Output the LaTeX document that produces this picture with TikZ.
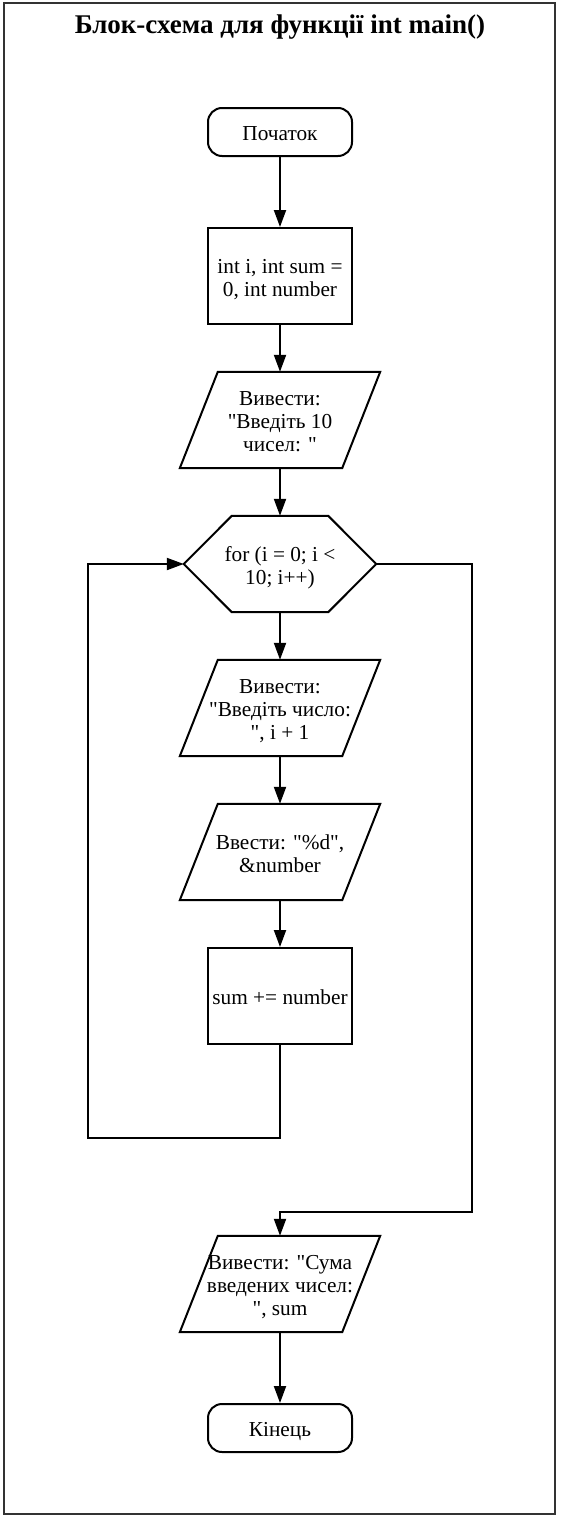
\documentclass[tikz,border=0pt]{standalone}
\usepackage{fontspec}
\setmainfont{Liberation Serif}
\usetikzlibrary{arrows.meta}
% straight double quote, set as a glyph so the TeX quote mapping leaves it alone
\newcommand{\dq}{\XeTeXglyph\XeTeXcharglyph"22\relax}
% centred block of lines, with a little extra room on top so the text sits slightly low
\newcommand{\blocktext}[1]{\begin{tabular}{@{}c@{}}\noalign{\vskip 8pt}#1\end{tabular}}

\begin{document}
\begin{tikzpicture}[x=1pt,y=-1pt,
  every node/.style={font=\fontsize{21.3}{23}\selectfont, inner sep=0pt},
  terminal/.style={draw, line width=2pt, rounded corners=14pt, minimum width=144pt, minimum height=48pt},
  process/.style={draw, line width=2pt, minimum width=144pt, minimum height=96pt},
  iobox/.style={minimum width=200pt, minimum height=96pt},
  loopbox/.style={minimum width=192pt, minimum height=96pt},
  outline/.style={line width=2pt, line join=miter},
  flow/.style={line width=2pt, -{Triangle[length=17pt,width=12pt]}}
]
\useasboundingbox (0,0) rectangle (560,1518);
\draw[line width=1.2pt, black!80] (4,3) rectangle (555,1514);

\node (title) at (280,27) {\fontsize{27}{30}\selectfont\bfseries Блок-схема для функції int main()};

\node[terminal] (start) at (280,132) {\blocktext{Початок}};
\node[process] (init) at (280,276) {\blocktext{int i, int sum =\\0, int number}};
\node[iobox] (out1) at (280,420) {\blocktext{Вивести:\\\dq Введіть 10\\чисел: \dq}};
\node[loopbox] (loop) at (280,564) {\blocktext{for (i = 0; i <\\10; i++)}};
\node[iobox] (out2) at (280,708) {\blocktext{Вивести:\\\dq Введіть число:\\\dq, i + 1}};
\node[iobox] (in1) at (280,852) {\blocktext{Ввести: \dq\%d\dq,\\\&number}};
\node[process] (acc) at (280,996) {\blocktext{sum += number}};
\node[iobox] (out3) at (280,1284) {\blocktext{Вивести: \dq Сума\\введених чисел:\\\dq, sum}};
\node[terminal] (stop) at (280,1428) {\blocktext{Кінець}};

% parallelogram outlines for input/output blocks
\foreach \n in {out1,out2,in1,out3}
  \draw[outline] ([xshift=38pt]\n.north west) -- (\n.north east)
    -- ([xshift=-38pt]\n.south east) -- (\n.south west) -- cycle;

% hexagon outline for the loop header
\draw[outline] ([xshift=48pt]loop.north west) -- ([xshift=-48pt]loop.north east)
  -- (loop.east) -- ([xshift=-48pt]loop.south east) -- ([xshift=48pt]loop.south west)
  -- (loop.west) -- cycle;

\coordinate (backdown) at (280,1138);
\coordinate (backleft) at (88,1138);
\coordinate (backup) at (88,564);
\coordinate (exitright) at (472,564);
\coordinate (exitdown) at (472,1212);
\coordinate (exitleft) at (280,1212);

\draw[flow] (start) -- (init);
\draw[flow] (init) -- (out1);
\draw[flow] (out1) -- (loop);
\draw[flow] (loop) -- (out2);
\draw[flow] (out2) -- (in1);
\draw[flow] (in1) -- (acc);
\draw[flow] (acc.south) -- (backdown) -- (backleft) -- (backup) -- (loop.west);
\draw[flow] (loop.east) -- (exitright) -- (exitdown) -- (exitleft) -- (out3.north);
\draw[flow] (out3) -- (stop);
\end{tikzpicture}
\end{document}
